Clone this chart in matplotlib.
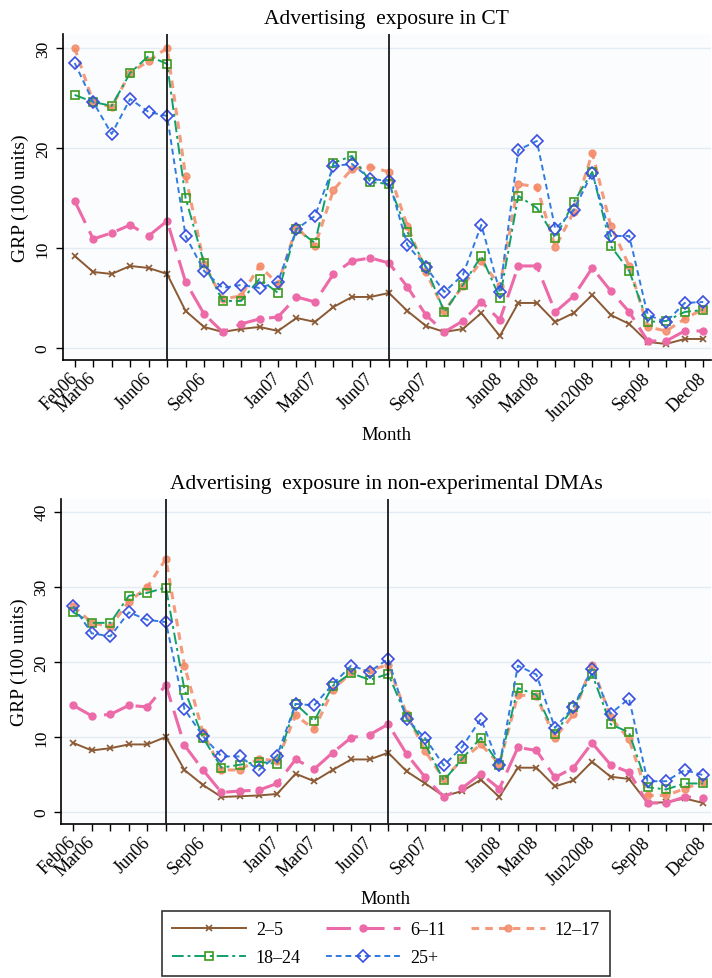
import matplotlib.pyplot as plt

# months Feb06 .. Dec08
months = ['Feb06', 'Mar06', 'Apr06', 'May06', 'Jun06', 'Jul06', 'Aug06', 'Sep06', 'Oct06', 'Nov06', 'Dec06',
          'Jan07', 'Feb07', 'Mar07', 'Apr07', 'May07', 'Jun07', 'Jul07', 'Aug07', 'Sep07', 'Oct07', 'Nov07', 'Dec07',
          'Jan08', 'Feb08', 'Mar08', 'Apr08', 'May08', 'Jun2008', 'Jul08', 'Aug08', 'Sep08', 'Oct08', 'Nov08', 'Dec08']
shown_labels = ['Feb06', 'Mar06', 'Jun06', 'Sep06', 'Jan07', 'Mar07', 'Jun07',
                'Sep07', 'Jan08', 'Mar08', 'Jun2008', 'Sep08', 'Dec08']
break_months = ['Jul06', 'Jul07']

age_groups = ['2–5', '6–11', '12–17', '18–24', '25+']

# CT
ct_2_5 = [9.2, 7.6, 7.4, 8.2, 8.0, 7.4, 3.7, 2.1, 1.6, 1.9, 2.1, 1.7, 3.0, 2.6, 4.1, 5.1, 5.1, 5.5,
          3.7, 2.2, 1.6, 1.9, 3.5, 1.2, 4.5, 4.5, 2.6, 3.5, 5.3, 3.3, 2.4, 0.6, 0.4, 0.9, 0.9]
ct_6_11 = [14.7, 10.9, 11.5, 12.3, 11.2, 12.7, 6.6, 3.4, 1.6, 2.4, 2.9, 3.1, 5.1, 4.6, 7.4, 8.7, 9.0, 8.5,
           6.1, 3.3, 1.6, 2.7, 4.6, 2.8, 8.2, 8.2, 3.6, 5.2, 8.0, 5.7, 3.6, 0.7, 0.7, 1.7, 1.7]
ct_12_17 = [30.0, 24.6, 24.1, 27.5, 28.7, 30.0, 17.2, 8.4, 4.9, 5.2, 8.2, 6.4, 12.1, 10.2, 15.8, 17.9, 18.1, 17.6,
            12.2, 7.6, 3.7, 6.2, 8.7, 6.2, 16.4, 16.1, 10.1, 13.6, 19.5, 12.2, 8.2, 2.1, 1.7, 2.9, 3.9]
ct_18_24 = [25.3, 24.6, 24.2, 27.5, 29.2, 28.4, 15.0, 8.5, 4.7, 4.7, 6.9, 5.5, 11.9, 10.5, 18.5, 19.2, 16.6, 16.4,
            11.6, 8.1, 3.6, 6.3, 9.2, 5.0, 15.2, 14.0, 11.0, 14.6, 17.6, 10.2, 7.7, 2.6, 2.7, 3.6, 3.8]
ct_25p = [28.5, 24.6, 21.4, 24.9, 23.6, 23.2, 11.2, 7.7, 6.0, 6.3, 6.0, 6.6, 11.9, 13.2, 18.2, 18.4, 16.9, 16.7,
          10.3, 8.1, 5.6, 7.3, 12.3, 5.6, 19.8, 20.7, 11.9, 13.8, 17.5, 11.2, 11.2, 3.3, 2.6, 4.5, 4.6]

# non-experimental DMAs
dma_2_5 = [9.2, 8.2, 8.5, 9.0, 9.0, 10.0, 5.6, 3.6, 2.0, 2.1, 2.2, 2.4, 5.1, 4.1, 5.6, 7.0, 7.0, 7.9,
           5.4, 3.8, 2.1, 2.8, 4.3, 2.0, 5.9, 5.9, 3.4, 4.2, 6.7, 4.7, 4.4, 1.2, 1.3, 1.8, 1.2]
dma_6_11 = [14.2, 12.8, 13.0, 14.2, 14.0, 16.9, 8.9, 5.6, 2.6, 2.8, 2.9, 3.8, 7.0, 5.7, 7.9, 9.9, 10.3, 11.7,
            7.7, 4.6, 2.0, 3.2, 5.1, 3.1, 8.6, 8.2, 4.6, 5.9, 9.2, 6.3, 5.3, 1.2, 1.2, 2.0, 1.9]
dma_12_17 = [27.4, 25.2, 24.7, 28.0, 30.0, 33.7, 19.5, 10.6, 5.6, 5.6, 7.1, 6.8, 12.9, 11.0, 16.2, 18.6, 18.9, 19.6,
             13.0, 8.1, 4.4, 7.0, 9.0, 6.4, 15.6, 15.4, 9.9, 13.0, 19.6, 12.6, 9.7, 2.2, 2.2, 3.1, 4.0]
dma_18_24 = [26.6, 25.2, 25.2, 28.8, 29.2, 29.9, 16.3, 9.9, 5.9, 6.3, 6.7, 6.4, 14.4, 12.1, 16.8, 18.5, 17.6, 18.4,
             12.6, 9.0, 4.2, 7.1, 9.9, 6.3, 16.5, 15.6, 10.4, 14.0, 18.4, 11.7, 10.6, 3.3, 3.0, 3.8, 3.8]
dma_25p = [27.4, 23.8, 23.4, 26.6, 25.6, 25.3, 13.7, 10.1, 7.4, 7.4, 5.6, 7.5, 14.4, 14.2, 17.0, 19.5, 18.7, 20.4,
           12.4, 9.8, 6.2, 8.7, 12.4, 6.2, 19.5, 18.3, 11.2, 14.0, 19.1, 13.1, 15.1, 4.1, 4.1, 5.6, 4.9]

styles = [
    dict(color='#8b5a34', linestyle='-', marker='x', markersize=5, linewidth=1.4, markeredgewidth=1.2),
    dict(color='#ec6aa8', linestyle=(0, (8, 3)), marker='o', markersize=5, linewidth=2.2),
    dict(color='#f48a66', linestyle=(0, (2.5, 2)), marker='o', markersize=5, linewidth=2.2, alpha=0.85),
    dict(color='#10a06a', linestyle=(0, (6, 2, 1.5, 2)), marker='s', markersize=6, linewidth=1.4,
         markerfacecolor='none', markeredgecolor='#3d9a1e', markeredgewidth=1.2),
    dict(color='#2f7be0', linestyle=(0, (3, 2)), marker='D', markersize=6, linewidth=1.4,
         markerfacecolor='none', markeredgecolor='#3b4fe0', markeredgewidth=1.2),
]

plt.rcParams['font.family'] = ['Liberation Serif', 'DejaVu Serif']

fig = plt.figure(figsize=(7.12, 9.79), dpi=100)
fig.patch.set_facecolor('white')

panels = [
    ('Advertising  exposure in CT', [ct_2_5, ct_6_11, ct_12_17, ct_18_24, ct_25p],
     [0.088, 0.6313, 0.91, 0.333], (-1.2, 31.4), [0, 10, 20, 30]),
    ('Advertising  exposure in non-experimental DMAs', [dma_2_5, dma_6_11, dma_12_17, dma_18_24, dma_25p],
     [0.086, 0.1573, 0.912, 0.332], (-1.6, 41.7), [0, 10, 20, 30, 40]),
]

x = list(range(len(months)))
handles = []
for title, series, rect, ylim, yticks in panels:
    ax = fig.add_axes(rect)
    ax.set_facecolor('#fbfcfe')
    for vals, st, lab in zip(series, styles, age_groups):
        line, = ax.plot(x, vals, label=lab, **st)
        if len(handles) < len(age_groups):
            handles.append(line)
    for m in break_months:
        ax.axvline(months.index(m), color='#1a1a1a', linewidth=1.3, zorder=5)
    ax.set_xlim(-0.65, 34.4)
    ax.set_ylim(*ylim)
    ax.set_yticks(yticks)
    ax.set_yticklabels([str(t) for t in yticks], rotation=90, va='center', fontsize=12.5)
    ax.yaxis.grid(True, color='#e3ecf3', linewidth=1)
    ax.set_axisbelow(True)
    ax.set_xticks(x)
    ax.set_xticklabels([m if m in shown_labels else '' for m in months],
                       rotation=45, ha='right', va='center', rotation_mode='anchor', fontsize=13)
    ax.tick_params(axis='both', direction='out', length=5, width=1)
    ax.tick_params(axis='x', pad=6)
    for s in ['top', 'right']:
        ax.spines[s].set_visible(False)
    ax.spines['left'].set_linewidth(1.2)
    ax.spines['bottom'].set_linewidth(1.2)
    ax.set_title(title, fontsize=15.5, pad=8)
    ax.set_ylabel('GRP (100 units)', fontsize=14)
    ax.set_xlabel('Month', fontsize=13.5, labelpad=1)

order = [0, 3, 1, 4, 2]
leg = fig.legend([handles[i] for i in order], [age_groups[i] for i in order],
                 loc='lower center', bbox_to_anchor=(0.542, 0.001), ncol=3, fontsize=13,
                 handlelength=4.1, columnspacing=1.4, handletextpad=0.55, labelspacing=0.6,
                 fancybox=False, edgecolor='black', borderpad=0.55, borderaxespad=0.05)
leg.get_frame().set_linewidth(1.2)

fig.savefig('out.png', dpi=100)
